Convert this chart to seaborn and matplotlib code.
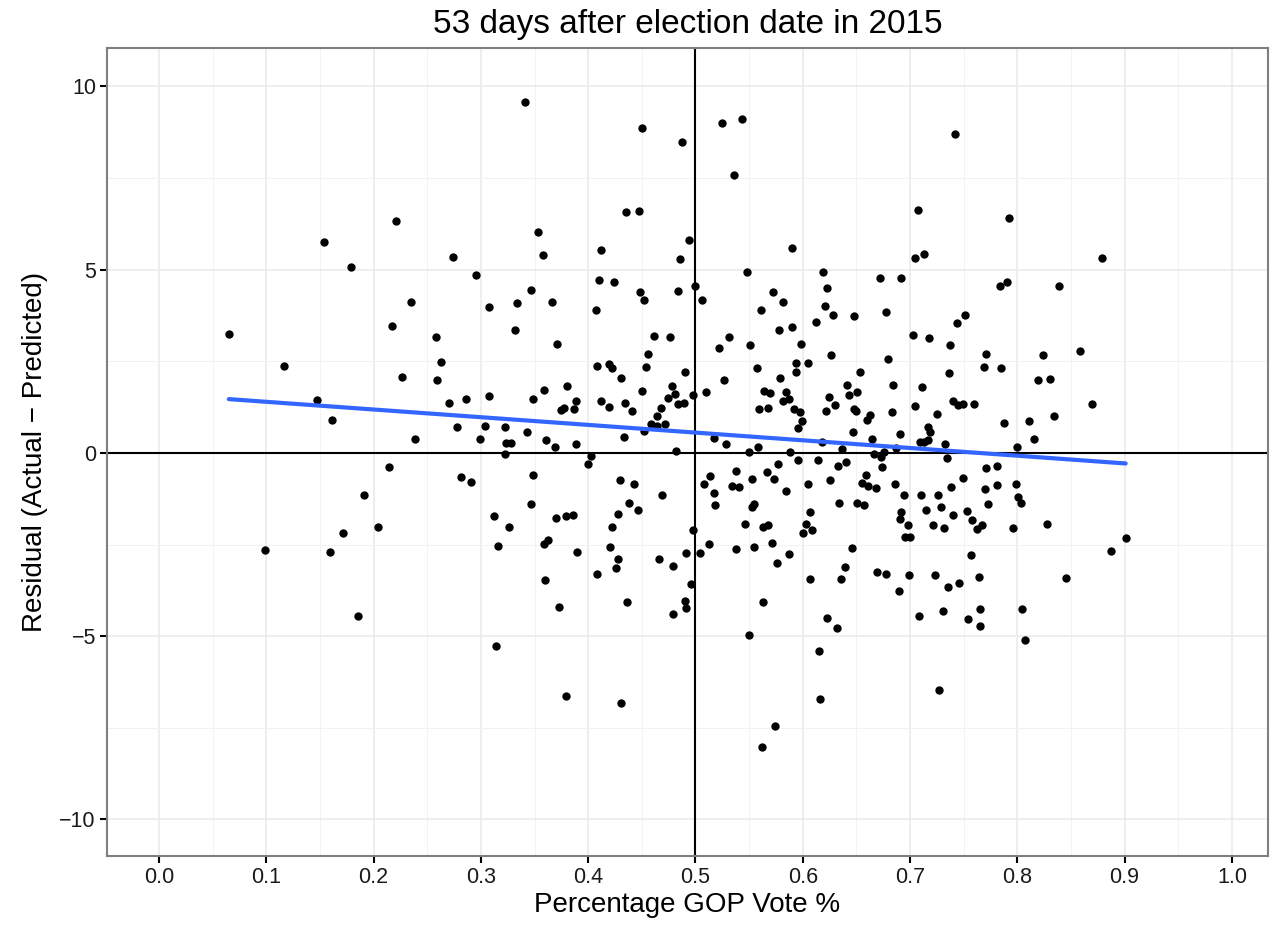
import seaborn as sns
import numpy as np
import pandas as pd
import matplotlib.pyplot as plt
from matplotlib.ticker import MultipleLocator

# GOP vote share and residual for each county
gop_pct = [
    0.154, 0.179, 0.221, 0.341, 0.450, 0.487, 0.435, 0.447, 0.353, 0.494,
    0.412, 0.358, 0.486, 0.274, 0.295, 0.235, 0.308, 0.334, 0.347, 0.366,
    0.410, 0.424, 0.407, 0.448, 0.452, 0.484, 0.500, 0.525, 0.543, 0.536,
    0.742, 0.707, 0.590, 0.705, 0.713, 0.548, 0.619, 0.506, 0.572, 0.582,
    0.561, 0.623, 0.621, 0.628, 0.612, 0.648, 0.672, 0.692, 0.678, 0.751,
    0.744, 0.792, 0.879, 0.784, 0.790, 0.839, 0.065, 0.116, 0.147, 0.161,
    0.217, 0.226, 0.214, 0.191, 0.204, 0.171, 0.159, 0.099, 0.258, 0.263,
    0.259, 0.332, 0.371, 0.270, 0.286, 0.308, 0.239, 0.278, 0.304, 0.299,
    0.322, 0.323, 0.328, 0.322, 0.343, 0.349, 0.359, 0.380, 0.389, 0.387,
    0.375, 0.377, 0.361, 0.369, 0.389, 0.408, 0.419, 0.422, 0.431, 0.412,
    0.419, 0.434, 0.441, 0.433, 0.450, 0.454, 0.456, 0.461, 0.476, 0.490,
    0.478, 0.481, 0.474, 0.484, 0.489, 0.498, 0.468, 0.464, 0.459, 0.472,
    0.464, 0.452, 0.482, 0.403, 0.400, 0.281, 0.291, 0.349, 0.347, 0.312,
    0.326, 0.316, 0.370, 0.379, 0.386, 0.359, 0.363, 0.390, 0.360, 0.430,
    0.443, 0.469, 0.438, 0.446, 0.428, 0.422, 0.420, 0.428, 0.426, 0.408,
    0.466, 0.479, 0.491, 0.498, 0.496, 0.510, 0.522, 0.531, 0.527, 0.551,
    0.578, 0.590, 0.598, 0.594, 0.605, 0.594, 0.557, 0.579, 0.626, 0.564,
    0.569, 0.584, 0.587, 0.582, 0.559, 0.568, 0.592, 0.597, 0.599, 0.596,
    0.624, 0.630, 0.622, 0.641, 0.643, 0.651, 0.653, 0.679, 0.648, 0.650,
    0.663, 0.660, 0.647, 0.665, 0.684, 0.683, 0.691, 0.711, 0.705, 0.725,
    0.717, 0.719, 0.703, 0.718, 0.737, 0.771, 0.769, 0.736, 0.740, 0.745,
    0.749, 0.760, 0.709, 0.713, 0.717, 0.733, 0.734, 0.517, 0.528, 0.558,
    0.550, 0.618, 0.637, 0.588, 0.666, 0.676, 0.673, 0.687, 0.596, 0.614,
    0.577, 0.633, 0.640, 0.674, 0.538, 0.514, 0.567, 0.553, 0.573, 0.508,
    0.534, 0.541, 0.517, 0.584, 0.605, 0.625, 0.659, 0.655, 0.661, 0.668,
    0.686, 0.694, 0.710, 0.726, 0.738, 0.749, 0.771, 0.770, 0.518, 0.553,
    0.555, 0.634, 0.651, 0.657, 0.607, 0.692, 0.691, 0.715, 0.729, 0.740,
    0.753, 0.758, 0.762, 0.767, 0.773, 0.546, 0.563, 0.568, 0.603, 0.609,
    0.600, 0.698, 0.721, 0.732, 0.695, 0.700, 0.513, 0.504, 0.538, 0.555,
    0.571, 0.587, 0.576, 0.646, 0.639, 0.636, 0.607, 0.669, 0.678, 0.699,
    0.690, 0.723, 0.735, 0.746, 0.764, 0.757, 0.785, 0.824, 0.858, 0.819,
    0.830, 0.870, 0.788, 0.811, 0.834, 0.816, 0.800, 0.781, 0.781, 0.799,
    0.801, 0.803, 0.796, 0.828, 0.901, 0.887, 0.845, 0.185, 0.373, 0.436,
    0.479, 0.490, 0.491, 0.314, 0.379, 0.431, 0.563, 0.550, 0.623, 0.632,
    0.615, 0.616, 0.574, 0.562, 0.708, 0.731, 0.754, 0.765, 0.765, 0.727,
    0.804, 0.807,
]
residual = [
    5.76, 5.07, 6.33, 9.58, 8.87, 8.49, 6.58, 6.60, 6.03, 5.81,
    5.54, 5.40, 5.29, 5.35, 4.86, 4.12, 3.98, 4.09, 4.45, 4.12,
    4.72, 4.67, 3.90, 4.39, 4.17, 4.42, 4.56, 9.00, 9.11, 7.59,
    8.70, 6.63, 5.59, 5.32, 5.43, 4.94, 4.94, 4.17, 4.39, 4.12,
    3.90, 4.50, 4.01, 3.77, 3.57, 3.74, 4.77, 4.77, 3.85, 3.77,
    3.55, 6.41, 5.32, 4.56, 4.67, 4.56, 3.25, 2.37, 1.45, 0.90,
    3.47, 2.07, -0.38, -1.15, -2.02, -2.18, -2.70, -2.65, 3.17, 2.48,
    1.99, 3.36, 2.97, 1.36, 1.47, 1.56, 0.38, 0.71, 0.74, 0.38,
    0.71, 0.27, 0.27, -0.03, 0.57, 1.47, 1.72, 1.83, 1.42, 1.20,
    1.17, 1.23, 0.35, 0.16, 0.25, 2.37, 2.43, 2.32, 2.05, 1.42,
    1.26, 1.36, 1.15, 0.44, 1.69, 2.35, 2.70, 3.19, 3.17, 2.21,
    1.83, 1.61, 1.50, 1.34, 1.36, 1.58, 1.23, 1.01, 0.79, 0.79,
    0.74, 0.60, 0.05, -0.08, -0.30, -0.65, -0.79, -0.60, -1.39, -1.72,
    -2.02, -2.54, -1.77, -1.72, -1.69, -2.48, -2.37, -2.70, -3.47, -0.74,
    -0.85, -1.15, -1.36, -1.56, -1.66, -2.02, -2.56, -2.89, -3.14, -3.30,
    -2.89, -3.08, -2.73, -2.10, -3.57, 1.66, 2.86, 3.17, 1.99, 2.95,
    3.36, 3.44, 2.97, 2.46, 2.46, 2.21, 2.32, 2.05, 2.67, 1.69,
    1.64, 1.66, 1.47, 1.42, 1.20, 1.23, 1.20, 1.12, 0.87, 0.68,
    1.53, 1.31, 1.15, 1.86, 1.58, 1.66, 2.21, 2.56, 1.20, 1.15,
    1.04, 0.90, 0.57, 0.38, 1.86, 1.12, 0.52, 1.80, 1.28, 1.06,
    0.71, 0.57, 3.22, 3.14, 2.95, 2.70, 2.35, 2.18, 1.42, 1.31,
    1.34, 1.34, 0.30, 0.30, 0.35, 0.25, -0.14, 0.41, 0.25, 0.16,
    0.03, 0.30, 0.11, 0.03, -0.03, 0.03, -0.11, 0.14, -0.19, -0.19,
    -0.30, -0.35, -0.25, -0.38, -0.49, -0.63, -0.52, -0.71, -0.71, -0.85,
    -0.90, -0.93, -1.09, -1.04, -0.85, -0.74, -0.60, -0.82, -0.90, -0.95,
    -0.85, -1.15, -1.15, -1.15, -0.93, -0.68, -0.41, -0.98, -1.42, -1.47,
    -1.39, -1.36, -1.36, -1.42, -1.61, -1.61, -1.80, -1.56, -1.47, -1.69,
    -1.58, -1.83, -2.07, -1.96, -1.39, -1.94, -2.02, -1.96, -1.94, -2.10,
    -2.18, -1.96, -1.96, -2.05, -2.29, -2.29, -2.48, -2.73, -2.62, -2.56,
    -2.46, -2.76, -3.00, -2.59, -3.11, -3.44, -3.44, -3.25, -3.30, -3.33,
    -3.77, -3.33, -3.66, -3.55, -3.38, -2.78, 2.32, 2.68, 2.78, 1.99,
    2.02, 1.34, 0.82, 0.87, 1.01, 0.38, 0.16, -0.35, -0.87, -0.85,
    -1.20, -1.36, -2.05, -1.94, -2.32, -2.67, -3.41, -4.45, -4.20, -4.07,
    -4.39, -4.04, -4.23, -5.27, -6.63, -6.82, -4.07, -4.97, -4.50, -4.77,
    -5.40, -6.71, -7.45, -8.02, -4.45, -4.31, -4.53, -4.26, -4.72, -6.47,
    -4.26, -5.10,
]

df = pd.DataFrame({'gop': gop_pct, 'resid': residual})

sns.set_theme(style='whitegrid')
plt.rcParams['font.family'] = ['Liberation Sans', 'DejaVu Sans']

fig = plt.figure(figsize=(12.71, 9.27), dpi=100)
ax = fig.add_axes([0.0842, 0.0766, 0.9134, 0.8716])

# reference lines
ax.axhline(0, color='black', lw=1.5, zorder=2)
ax.axvline(0.5, color='black', lw=1.5, zorder=2)

# points + linear fit like geom_smooth(method='lm', se=FALSE)
sns.regplot(data=df, x='gop', y='resid', ci=None, ax=ax,
            scatter_kws={'s': 36, 'color': 'black', 'alpha': 1, 'linewidths': 0, 'zorder': 3},
            line_kws={'color': '#3366FF', 'lw': 3, 'zorder': 4})

ax.set_xlim(-0.0485, 1.0336)
ax.set_ylim(-11.0, 11.05)
ax.xaxis.set_major_locator(MultipleLocator(0.1))
ax.xaxis.set_minor_locator(MultipleLocator(0.05))
ax.yaxis.set_major_locator(MultipleLocator(5))
ax.yaxis.set_minor_locator(MultipleLocator(2.5))
ax.set_xticks(np.arange(0, 1.01, 0.1))
ax.set_xticklabels([f'{v:.1f}' for v in np.arange(0, 1.01, 0.1)])

ax.grid(which='major', color='#EBEBEB', lw=1.2)
ax.grid(which='minor', color='#F2F2F2', lw=0.7)
ax.set_axisbelow(True)
for s in ax.spines.values():
    s.set_color('#7F7F7F')
    s.set_linewidth(1.5)

ax.tick_params(axis='both', which='major', length=5, width=1.5, color='black',
               labelsize=15.5, labelcolor='#1a1a1a', bottom=True, left=True, pad=3)
ax.tick_params(which='minor', length=0)

ax.set_xlabel('Percentage GOP Vote %', fontsize=20, labelpad=3, color='black')
ax.set_ylabel('Residual (Actual \u2212 Predicted)', fontsize=20, labelpad=8, color='black')
ax.set_title('53 days after election date in 2015', fontsize=24, pad=11, color='black')

fig.savefig('out.png', dpi=100)
